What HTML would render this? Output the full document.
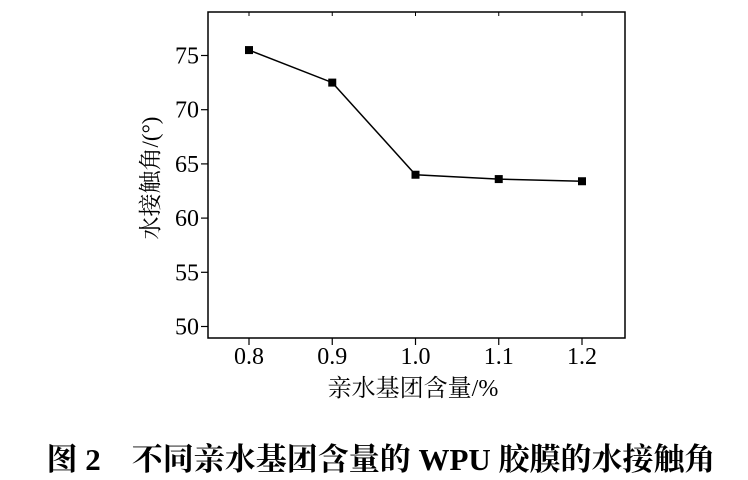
<!DOCTYPE html>
<html><head><meta charset="utf-8"><style>
body{margin:0;background:#fff;}
svg{display:block;font-family:"Liberation Serif","Noto Serif CJK SC",serif;}
</style></head><body>
<svg id="chart" width="748" height="480" viewBox="0 0 748 480">
<rect x="208" y="12" width="417" height="326" fill="none" stroke="#000" stroke-width="1.5"/>
<g id="axes"></g>
<g id="series"></g>
<text x="0" y="0" transform="translate(158,178) rotate(-90)" text-anchor="middle" font-size="23">水接触角/(°)</text>
<text x="413" y="396" text-anchor="middle" font-size="24">亲水基团含量/%</text>
<text x="381" y="470" text-anchor="middle" font-size="31" font-weight="bold">图 2　不同亲水基团含量的 WPU 胶膜的水接触角</text>
</svg>
<script>
const categories=[0.8,0.9,1.0,1.1,1.2];
const values=[75.5,72.5,64.0,63.6,63.4];
const yTicks=[50,55,60,65,70,75];
const xTickLabels=["0.8","0.9","1.0","1.1","1.2"];
const ns="http://www.w3.org/2000/svg";
function xs(v){return 249+(v-0.8)*832.5;}
function ys(v){return 326.5-(v-50)*10.84;}
function mk(t,a,p){const e=document.createElementNS(ns,t);for(const k in a)e.setAttribute(k,a[k]);p.appendChild(e);return e;}
const ax=document.getElementById('axes');
yTicks.forEach(t=>{
 const l=mk('line',{x1:201,x2:208,y1:ys(t),y2:ys(t),stroke:'#000','stroke-width':1.2},ax);
 
 
 const tx=mk('text',{x:199,y:ys(t)+8,'text-anchor':'end','font-size':24},ax);tx.textContent=t;
 
 
});
categories.forEach((c,i)=>{
 const l=mk('line',{x1:xs(c),x2:xs(c),y1:338,y2:345,stroke:'#000','stroke-width':1.2},ax);
 
 
 const l2=mk('line',{x1:xs(c),x2:xs(c),y1:12,y2:16,stroke:'#000','stroke-width':1},ax);
 
 
 const tx=mk('text',{x:xs(c),y:364,'text-anchor':'middle','font-size':24},ax);tx.textContent=xTickLabels[i];
 
 
});
const se=document.getElementById('series');
const pl=mk('polyline',{points:categories.map((c,i)=>xs(c)+','+ys(values[i])).join(' '),fill:'none',stroke:'#000','stroke-width':1.5},se);


categories.forEach((c,i)=>{
 const r=mk('rect',{x:xs(c)-4,y:ys(values[i])-4,width:8,height:8,fill:'#000'},se);
 
 
});
</script>
</body></html>
